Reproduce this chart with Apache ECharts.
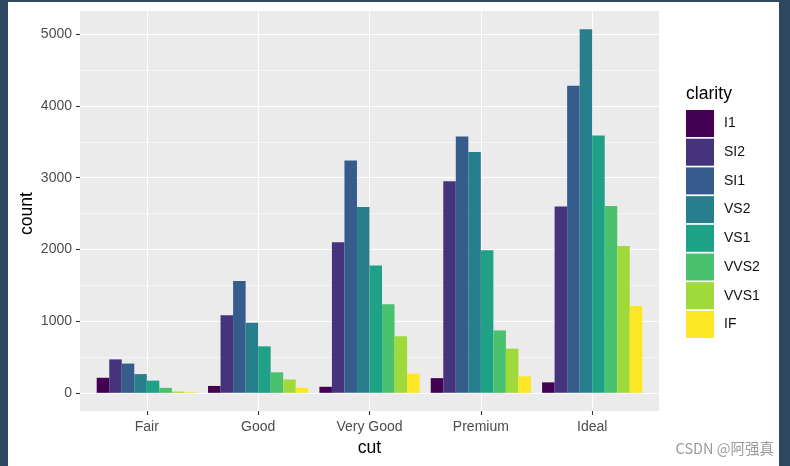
<!DOCTYPE html>
<html>
<head>
<meta charset="utf-8">
<script src="https://cdn.jsdelivr.net/npm/echarts@6/dist/echarts.min.js"></script>
<style>
  html, body { margin: 0; padding: 0; background: #ffffff; }
  #chart { position: absolute; left: 0; top: 0; width: 790px; height: 466px; }
  .frame { position: absolute; background: #2e4760; z-index: 10; }
</style>
</head>
<body>
<div id="chart"></div>
<div class="frame" style="left:0;top:0;width:8px;height:466px;"></div>
<div class="frame" style="left:779px;top:0;width:11px;height:466px;"></div>
<div class="frame" style="left:0;top:0;width:790px;height:2px;"></div>
<script>
// ---- data ----
const cuts = ['Fair', 'Good', 'Very Good', 'Premium', 'Ideal'];
const clarityLevels = ['I1', 'SI2', 'SI1', 'VS2', 'VS1', 'VVS2', 'VVS1', 'IF'];
const I1   = [210, 96, 84, 205, 146];
const SI2  = [466, 1081, 2100, 2949, 2598];
const SI1  = [408, 1560, 3240, 3575, 4282];
const VS2  = [261, 978, 2591, 3357, 5071];
const VS1  = [170, 648, 1775, 1989, 3589];
const VVS2 = [69, 286, 1235, 870, 2606];
const VVS1 = [17, 186, 789, 616, 2047];
const IF   = [9, 71, 268, 230, 1212];
const yTickMin = 0, yTickMax = 5000, yTickStep = 1000;
const colors = ['#440154', '#46337E', '#365C8D', '#277F8E', '#1FA187', '#4AC16D', '#9FDA3A', '#FDE725'];

const seriesValues = [I1, SI2, SI1, VS2, VS1, VVS2, VVS1, IF];

// ---- layout (ggplot-like panel) ----
const PL = 80, PR = 659, PT = 11, PB = 411;
const unit = (PR - PL) / 5.2;            // discrete expansion 0.6 each side
const allVals = seriesValues.flat();
const dataMax = Math.max(...allVals);
const yMin = -0.05 * dataMax, yMax = dataMax * 1.05;
const yPix = v => PB - (v - yMin) / (yMax - yMin) * (PB - PT);
const top5000 = yPix(yTickMax), bot0 = yPix(yTickMin);
const firstC = PL + 0.6 * unit, lastC = PL + 4.6 * unit;

const FONT = "'Liberation Sans', Arial, sans-serif";

const chart = echarts.init(document.getElementById('chart'), null, { renderer: 'canvas' });

const series = clarityLevels.map((name, i) => ({
  name: name,
  type: 'bar',
  xAxisIndex: 2,
  yAxisIndex: 2,
  data: seriesValues[i],
  barWidth: unit * 0.9 / 8,
  barGap: '0%',
  clip: false,
  itemStyle: { color: colors[i] },
  emphasis: { disabled: true },
  z: 5
}));

chart.setOption({
  animation: false,
  textStyle: { fontFamily: FONT },
  grid: [
    { left: PL, top: PT, width: PR - PL, height: PB - PT, show: true, backgroundColor: '#EBEBEB', borderWidth: 0, z: -1 },
    { left: PL, top: top5000, width: PR - PL, height: bot0 - top5000, containLabel: false },
    { left: firstC, top: PT, width: lastC - firstC, height: PB - PT, containLabel: false }
  ],
  xAxis: [
    { gridIndex: 0, type: 'value', show: false, min: 0, max: 1 },
    { gridIndex: 1, type: 'value', show: false, min: 0, max: 1 },
    {
      gridIndex: 2, type: 'category', data: cuts, boundaryGap: false, position: 'bottom',
      axisLine: { show: false, onZero: false },
      axisTick: { show: true, length: 4, alignWithLabel: true, lineStyle: { color: '#333333', width: 1.1 } },
      axisLabel: { color: '#4D4D4D', fontSize: 14, margin: 9, fontFamily: FONT },
      splitLine: { show: true, interval: 0, lineStyle: { color: '#ffffff', width: 1.1 } },
      name: 'cut', nameLocation: 'middle', nameGap: 28, nameMoveOverlap: false,
      nameTextStyle: { color: '#000000', fontSize: 17.6, fontFamily: FONT },
      z: 1
    }
  ],
  yAxis: [
    { gridIndex: 0, type: 'value', show: false, min: 0, max: 1 },
    {
      gridIndex: 1, type: 'value', min: yTickMin, max: yTickMax, interval: yTickStep,
      axisLine: { show: false },
      axisTick: { show: true, length: 4, lineStyle: { color: '#333333', width: 1.1 } },
      axisLabel: { color: '#4D4D4D', fontSize: 14, margin: 8, fontFamily: FONT, formatter: v => String(v) },
      splitLine: { show: true, lineStyle: { color: '#ffffff', width: 1.1 } },
      minorTick: { show: false, splitNumber: 2 },
      minorSplitLine: { show: true, lineStyle: { color: '#ffffff', width: 0.55 } },
      name: 'count', nameLocation: 'middle', nameRotate: 90, nameGap: 44, nameMoveOverlap: false,
      nameTextStyle: { color: '#000000', fontSize: 17.6, fontFamily: FONT },
      z: 1
    },
    { gridIndex: 2, type: 'value', show: false, min: yMin, max: yMax }
  ],
  legend: {
    orient: 'vertical',
    left: 686, top: 110, padding: 0,
    itemWidth: 28, itemHeight: 27, itemGap: 1.7,
    icon: 'rect',
    selectedMode: false,
    data: clarityLevels,
    textStyle: { color: '#111111', fontSize: 14, fontFamily: FONT, padding: [0, 0, 0, 5] }
  },
  title: {
    text: 'clarity', left: 686, top: 85, padding: 0,
    textStyle: { color: '#000000', fontSize: 17.6, fontWeight: 'normal', fontFamily: FONT }
  },
  graphic: [
    {
      type: 'text', right: 16, top: 441,
      style: { text: 'CSDN @阿强真', fill: '#9a9a9a', fontSize: 14.5, fontFamily: "'Noto Sans CJK SC', 'Liberation Sans', sans-serif" }
    }
  ],
  series: series
});
</script>
</body>
</html>
